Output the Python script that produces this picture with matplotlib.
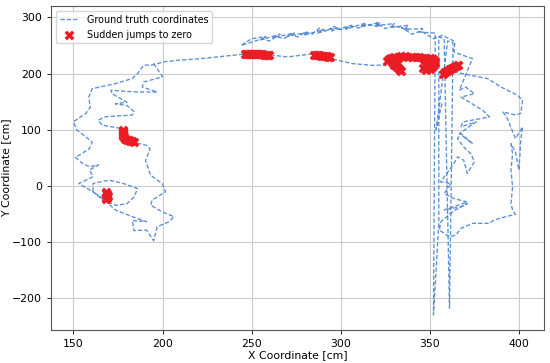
import numpy as np
import matplotlib
matplotlib.use("Agg")
import matplotlib.pyplot as plt

# --------------------------------------------------
# ground truth trajectory (cm)
# --------------------------------------------------
# inner zigzag on the left, down through the lower loop, back up the outer edge
gt_x_left = [195, 200, 189.5, 188.6, 197, 186, 171, 171.7, 180, 173.6, 180, 184, 183, 168, 164,
             166, 177, 178, 178, 183, 191, 193, 191, 190.4, 193.3, 199.8, 201.7, 194.2, 193.3,
             199.8, 206.4, 203.6, 197, 195, 191, 184, 183, 191, 183, 174, 164, 161, 161, 170,
             178, 186, 184, 180, 174, 167, 161, 153, 161, 159, 164, 159, 155, 151, 153, 159,
             160.5, 157, 152, 150, 157, 159.5, 158.6, 160.5, 173.6, 183, 186, 189.5, 192]
gt_y_left = [218, 194, 185, 176, 167, 167, 170, 164, 149, 146, 143, 132, 126, 123, 117,
             108, 102, 100, 82, 78, 72, 66, 49, 45.5, 18.8, 4, -10.8, -25.7, -34.6,
             -46.4, -55.3, -64.2, -73, -98, -79, -80, -62, -64, -55, -44, -17, -11, 4, 10,
             4, -5, -20, -32, -35, -26, -11, 4, 16, 28, 37, 34, 40, 51, 54, 66,
             78, 87, 99, 114, 129, 140, 158, 173, 182, 191, 200, 215, 215]

# lower band along the top, heading right
gt_x_top = [194, 201, 210, 220, 232, 244, 252, 261, 270, 284, 290, 294.4, 306.6, 318, 325,
            329, 336, 344, 352, 353, 358, 366]
gt_y_top = [215, 221, 224, 226, 230, 234, 234, 233, 229.5, 235, 232, 226.5, 217.6, 214.6, 215,
            222, 227, 226, 222, 214, 205, 213]

# right hand loop
gt_x_right = [363.6, 382.4, 389.8, 399.2, 402, 401, 398, 391, 393, 394.6, 398, 402, 401, 400,
              398, 395.5, 396.4, 395.5, 396.4, 395.5, 396.4, 398, 392.7, 386, 383.4, 374,
              367.4, 364.6, 361, 355.3, 356.2, 362.8, 371, 367.4, 358, 371, 363.6, 358,
              361.8, 356, 363.6, 365.5, 369, 371, 375, 373, 369, 365.5, 367.4, 374, 366.5,
              375.9, 367.5, 368.4, 383.4, 379.6, 367.5, 375, 370, 366.5, 373.9, 363.6]
gt_y_right = [202.8, 190.9, 176.1, 161.3, 152, 129, 126, 131.5, 123, 111, 84, 105, 81, 28,
              60, 75, 57, 28, -2, -32, -43, -51, -55, -61, -67, -67,
              -76, -88, -91, -79, -64, -46, -31.5, -37.5, -43, -29, -23, -14,
              4, 7, 40, 51.5, 45.5, 22, 43, 57, 69, 84, 93, 75, 93,
              113.7, 105, 113.7, 122.6, 134.5, 158, 164, 176, 170, 226.5, 238]

# noisy upper band: leftward pass then rightward pass
gt_x_band = [364, 357, 352, 345, 340, 334, 338, 330, 325, 320, 322, 314, 310, 306, 300, 296,
             292, 288, 284, 280, 276, 272, 268, 264, 260, 256, 250, 244,
             250, 258, 255, 266, 262, 274, 270, 282, 279, 290, 287, 298, 295, 306, 303,
             314, 311, 322, 319, 330, 328, 338, 336, 346, 344, 353]
gt_y_band = [257, 268, 262, 276, 270, 282, 278, 285, 280, 290, 284, 287, 281, 285, 278, 284,
             276, 281, 270, 274, 265, 270, 262, 266, 258, 262, 256, 250,
             262, 266, 260, 270, 264, 272, 266, 274, 268, 278, 272, 282, 276, 286, 279,
             290, 283, 291, 285, 289, 282, 286, 279, 280, 274, 272]

# long vertical jumps near x = 352-363
gt_x_jump = [352, 355, 355, 358, 361, 362, 363, 360, 353.5, 357]
gt_y_jump = [-230, -67, 265, 262, -218, 10, 255, 258, 100, 150]

gt_x = gt_x_left + gt_x_top + gt_x_right + gt_x_band + gt_x_jump
gt_y = gt_y_left + gt_y_top + gt_y_right + gt_y_band + gt_y_jump

# sudden jumps to zero (marked points)
jump_x = [168, 168.3, 168.6, 169, 169.3, 169, 168.5, 168,
          178, 178, 178, 178, 178, 178, 178, 178.5, 179, 180, 181, 182, 183, 184,
          246, 247, 248, 249, 250, 251, 252, 253, 254, 255, 256, 257, 258, 259, 260,
          285, 286, 287, 288, 289, 290, 291, 292, 293, 294,
          326, 327, 328, 330, 332, 334, 336, 338, 340, 342, 344, 346, 348, 350, 352, 353, 353,
          352, 351, 350, 348, 346, 347, 349, 329, 330, 331, 332, 333, 334, 330, 332,
          357.5, 358.5, 359.5, 360.5, 361.5, 362.5, 363.5, 364.5, 365.5, 366]
jump_y = [-11, -13, -15, -17, -19, -21, -22, -23,
          100, 98, 96, 94, 92, 90, 88, 86, 84, 82, 81, 80, 79, 78,
          234, 234, 234, 234, 234, 234, 234, 234, 234, 234, 234, 233.5, 233, 233, 233,
          233, 233, 233, 232.5, 232, 232, 231, 230.5, 230, 229,
          222, 225, 227, 229, 230, 230.5, 230.5, 230, 230, 229.5, 229, 228.5, 228, 227, 225, 222, 218,
          214, 211, 208, 207, 210, 216, 219, 221, 217, 213, 210, 207, 205, 215, 219,
          200, 202, 204, 206, 208, 210, 212, 213.5, 215, 216]

# --------------------------------------------------
# plot
# --------------------------------------------------
fig, ax = plt.subplots(figsize=(5.5, 3.63), dpi=100)
fig.subplots_adjust(left=0.093, right=0.989, top=0.983, bottom=0.091)

ax.plot(gt_x, gt_y, linestyle=(0, (3.2, 1.6)), color='#5a8ed6', lw=0.95,
        label='Ground truth coordinates', zorder=2)
ax.scatter(jump_x, jump_y, marker='X', s=50, color='#ec1c24', linewidths=0,
           label='Sudden jumps to zero', zorder=3)

ax.set_xlim(137.5, 414)
ax.set_ylim(-257, 320)
ax.set_xticks(np.arange(150, 401, 50))
ax.set_yticks(np.arange(-200, 301, 100))
ax.tick_params(labelsize=7.8, length=3, width=0.6)
ax.set_xlabel('X Coordinate [cm]', fontsize=7.8, labelpad=1)
ax.set_ylabel('Y Coordinate [cm]', fontsize=7.8, labelpad=1)
ax.grid(color='#cccccc', lw=0.8)
ax.set_axisbelow(True)
for sp in ax.spines.values():
    sp.set_color('#555555')
    sp.set_linewidth(0.8)

ax.legend(loc='upper left', fontsize=6.9, framealpha=0.8, borderpad=0.4)

plt.savefig('out.png', dpi=100)
